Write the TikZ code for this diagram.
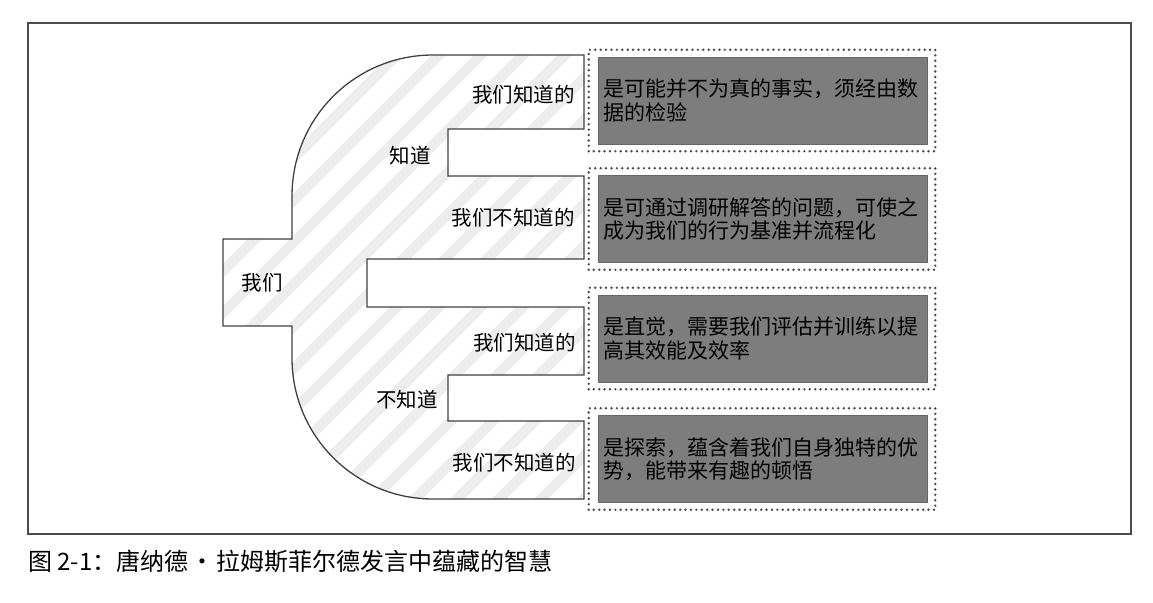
\documentclass[tikz,border=0pt]{standalone}
\usepackage{fontspec}
\setmainfont{Noto Sans CJK SC}
\usepackage{xcolor}
\usetikzlibrary{calc}
\definecolor{boxgray}{gray}{0.49}

\begin{document}
\begin{tikzpicture}[x=1pt,y=-1pt,
  lbl/.style={font=\fontsize{20.5}{24}\selectfont,inner sep=0pt},
  darkbox/.style={fill=boxgray,draw=black!60,line width=0.5pt,minimum height=87pt,text width=318pt,align=left,inner xsep=5.5pt,font=\fontsize{21}{23.5}\selectfont},
  dotbox/.style={draw=black!70,line width=2.7pt,dash pattern=on 0pt off 5.4pt,line cap=round},
  hatch/.style={draw=black!7,line width=10pt}]
\useasboundingbox (0,0) rectangle (1153,602);
\def\blob{(433,55) -- (584,55) -- (584,129) -- (448,129) -- (448,176) -- (584,176) -- (584,259) -- (367,259) -- (367,307) -- (584,307) -- (584,375) -- (448,375) -- (448,421) -- (584,421) -- (584,499) -- (433,499) .. controls (355,499) and (292,436) .. (292,358) -- (292,326) -- (223,326) -- (223,239) -- (292,239) -- (292,196) .. controls (292,118) and (355,55) .. (433,55) -- cycle}
% frame
\draw[black!70,line width=1.2pt] (28,23) rectangle (1131,534);
% hatched tree shape
\begin{scope}
\clip \blob;
\foreach \i in {-320,-278,...,600} \draw[hatch] (\i,520) -- ++(500,-500);
\end{scope}
\draw[black!75,line width=1.3pt] \blob;
% labels
\node[lbl] (we) at (262,283) {我们};
\node[lbl] (know) at (410,156) {知道};
\node[lbl] (notknow) at (407,400) {不知道};
\node[lbl,anchor=east] (kk) at (575,95) {我们知道的};
\node[lbl,anchor=east] (ku) at (575,218) {我们不知道的};
\node[lbl,anchor=east] (uk) at (576,343) {我们知道的};
\node[lbl,anchor=east] (uu) at (576,463) {我们不知道的};
% answer boxes
\node[darkbox] (b1) at (762.5,100.5) {是可能并不为真的事实，须经由数\\据的检验};
\node[darkbox] (b2) at (762.5,219) {是可通过调研解答的问题，可使之\\成为我们的行为基准并流程化};
\node[darkbox] (b3) at (762.5,338.5) {是直觉，需要我们评估并训练以提\\高其效能及效率};
\node[darkbox] (b4) at (762.5,459) {是探索，蕴含着我们自身独特的优\\势，能带来有趣的顿悟};
\foreach \b in {b1,b2,b3,b4}
  \draw[dotbox] ($(\b.south west)+(-9,7)$) rectangle ($(\b.north east)+(8,-7)$);
% caption
\node[anchor=west,inner sep=0pt,font=\fontsize{24}{27}\selectfont] (cap) at (28,561) {图 2-1：唐纳德\hspace{2pt}·\hspace{2pt}拉姆斯菲尔德发言中蕴藏的智慧};
\end{tikzpicture}
\end{document}
